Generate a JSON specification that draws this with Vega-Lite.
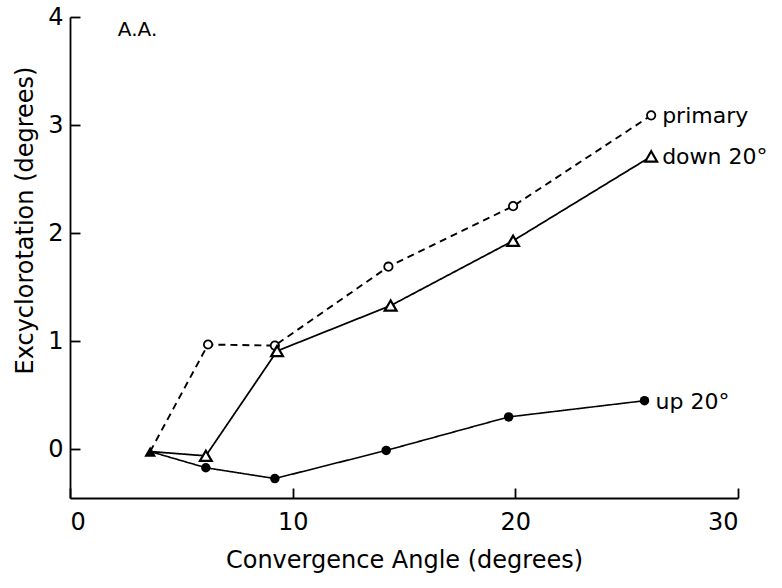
{
  "$schema": "https://vega.github.io/schema/vega-lite/v6.json",
  "width": 668,
  "height": 481,
  "autosize": {"type": "none"},
  "padding": {"left": 70, "top": 17, "right": 44, "bottom": 90},
  "background": "white",
  "config": {
    "view": {"stroke": null},
    "font": "DejaVu Sans",
    "axis": {"grid": false, "domainColor": "black", "tickColor": "black", "labelColor": "black", "titleColor": "black", "domainWidth": 1.8, "tickWidth": 1.8, "labelFont": "DejaVu Sans", "titleFont": "DejaVu Sans"}
  },
  "data": {
    "values": [
      {"series": "primary", "x": 3.6, "y": -0.02, "start": true},
      {"series": "primary", "x": 6.2, "y": 0.97, "start": false},
      {"series": "primary", "x": 9.2, "y": 0.96, "start": false},
      {"series": "primary", "x": 14.3, "y": 1.69, "start": false},
      {"series": "primary", "x": 19.9, "y": 2.25, "start": false},
      {"series": "primary", "x": 26.1, "y": 3.09, "start": false},
      {"series": "down 20°", "x": 3.6, "y": -0.02, "start": true},
      {"series": "down 20°", "x": 6.1, "y": -0.06, "start": false},
      {"series": "down 20°", "x": 9.3, "y": 0.91, "start": false},
      {"series": "down 20°", "x": 14.4, "y": 1.33, "start": false},
      {"series": "down 20°", "x": 19.9, "y": 1.93, "start": false},
      {"series": "down 20°", "x": 26.1, "y": 2.71, "start": false},
      {"series": "up 20°", "x": 3.6, "y": -0.02, "start": true},
      {"series": "up 20°", "x": 6.1, "y": -0.17, "start": false},
      {"series": "up 20°", "x": 9.2, "y": -0.27, "start": false},
      {"series": "up 20°", "x": 14.2, "y": -0.01, "start": false},
      {"series": "up 20°", "x": 19.7, "y": 0.30, "start": false},
      {"series": "up 20°", "x": 25.8, "y": 0.45, "start": false}
    ]
  },
  "encoding": {
    "x": {"field": "x", "type": "quantitative", "scale": {"domain": [0, 30], "nice": false},
      "axis": {"values": [0, 10, 20, 30], "tickSize": -10, "labelPadding": 22, "labelFontSize": 24, "title": "Convergence Angle (degrees)", "titleFontSize": 24, "titleFontWeight": "normal", "titlePadding": 14}},
    "y": {"field": "y", "type": "quantitative", "scale": {"domain": [-0.45, 4], "nice": false, "zero": false},
      "axis": {"values": [0, 1, 2, 3, 4], "tickSize": -10, "labelPadding": 17, "labelFontSize": 24, "title": "Excyclorotation (degrees)", "titleFontSize": 24, "titleFontWeight": "normal", "titlePadding": 10, "titleY": 203}}
  },
  "layer": [
    {
      "mark": {"type": "line", "color": "black"},
      "encoding": {
        "detail": {"field": "series"},
        "strokeDash": {"field": "series", "type": "nominal", "scale": {"domain": ["primary", "down 20°", "up 20°"], "range": [[7, 5], [1, 0], [1, 0]]}, "legend": null},
        "strokeWidth": {"field": "series", "type": "nominal", "scale": {"domain": ["primary", "down 20°", "up 20°"], "range": [1.9, 1.6, 2.8]}, "legend": null}
      }
    },
    {
      "transform": [{"filter": "datum.series == 'primary' && !datum.start"}],
      "mark": {"type": "point", "shape": "circle", "filled": false, "color": "black", "fill": "white", "size": 70, "strokeWidth": 1.8, "opacity": 1}
    },
    {
      "transform": [{"filter": "datum.series == 'down 20°' && !datum.start"}],
      "mark": {"type": "point", "shape": "triangle-up", "filled": false, "color": "black", "fill": "white", "size": 140, "strokeWidth": 2.2, "opacity": 1}
    },
    {
      "transform": [{"filter": "datum.series == 'up 20°' && !datum.start"}],
      "mark": {"type": "point", "shape": "circle", "filled": true, "color": "black", "size": 90, "opacity": 1}
    },
    {
      "transform": [{"filter": "datum.series == 'up 20°' && datum.start"}],
      "mark": {"type": "point", "shape": "triangle-up", "filled": true, "color": "black", "size": 140, "opacity": 1}
    },
    {
      "transform": [{"filter": "datum.x > 25"}],
      "mark": {"type": "text", "align": "left", "baseline": "middle", "dx": 11, "dy": 1, "fontSize": 22, "color": "black", "font": "DejaVu Sans"},
      "encoding": {"text": {"field": "series"}}
    },
    {
      "data": {"values": [{"x": 2.15, "y": 3.88, "label": "A.A."}]},
      "mark": {"type": "text", "align": "left", "baseline": "middle", "fontSize": 20, "color": "black", "font": "DejaVu Sans"},
      "encoding": {"text": {"field": "label"}}
    }
  ]
}
